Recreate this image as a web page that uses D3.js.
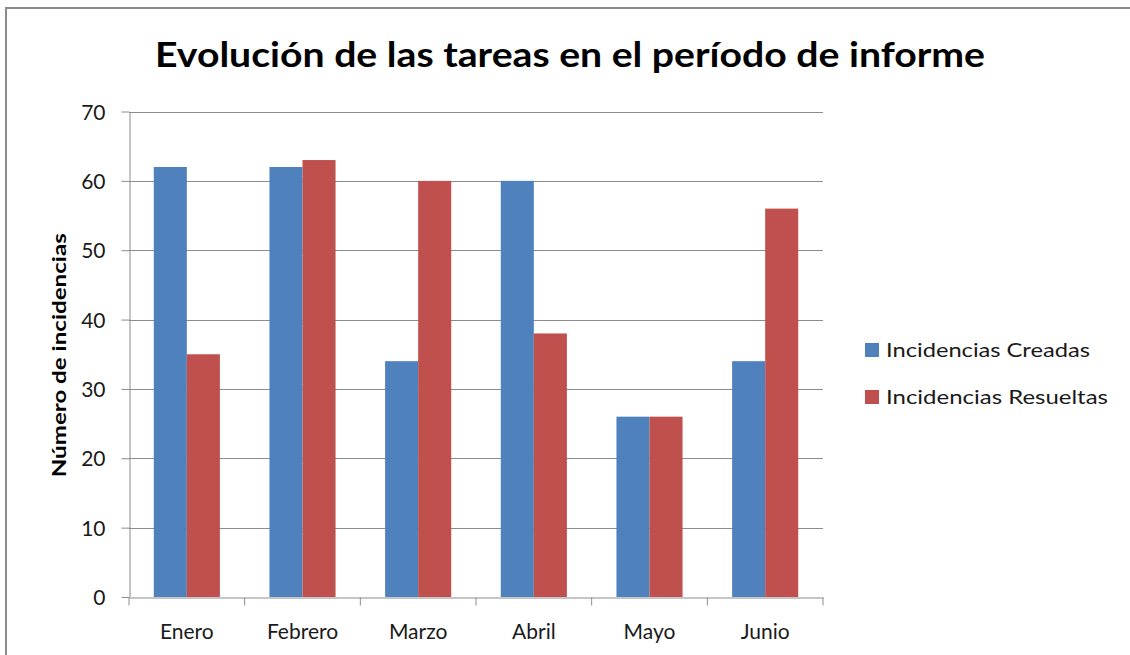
<!DOCTYPE html>
<html>
<head>
  <meta charset="UTF-8">
  <style>
    body { margin: 0; background: #fff; }
    svg { display: block; font-family: Lato, "Open Sans", sans-serif; }
  </style>
</head>
<body>
  <svg></svg>
<script src="https://d3js.org/d3.v7.min.js"></script>

<script>
let width = 1130,
    height = 655;

let months = ["Enero", "Febrero", "Marzo", "Abril", "Mayo", "Junio"];
let creadas = [62, 62, 34, 60, 26, 34];
let resueltas = [35, 63, 60, 38, 26, 56];
let seriesNames = ["Incidencias Creadas", "Incidencias Resueltas"];
let yTicks = [0, 10, 20, 30, 40, 50, 60, 70];

let colors = ["#4F81BD", "#C0504D"];

let svg = d3.select("svg")
    .attr("width", width)
    .attr("height", height);

// outer frame (only top and left visible)
svg.append("path")
    .attr("d", "M6,655 L6,8 L1130,8")
    .attr("fill", "none")
    .attr("stroke", "#8a8a8a")
    .attr("stroke-width", 2);

let plot = { left: 129, right: 823, top: 111.5, bottom: 597 };

let x = d3.scaleBand()
    .domain(months)
    .range([plot.left, plot.right])
    .paddingInner(0)
    .paddingOuter(0);

// two bars per month, ~33px each, gap of ~24px on each side
let xInner = d3.scaleBand()
    .domain([0, 1])
    .range([0, x.bandwidth()])
    .paddingOuter(0.75)
    .paddingInner(0);

let y = d3.scaleLinear()
    .domain([0, 70])
    .range([plot.bottom, plot.top]);

// gridlines
svg.append("g")
    .selectAll("line")
    .data(yTicks.filter(d => d > 0))
    .enter()
    .append("line")
    .attr("x1", plot.left)
    .attr("x2", plot.right)
    .attr("y1", d => Math.round(y(d)) + 0.5)
    .attr("y2", d => Math.round(y(d)) + 0.5)
    .attr("stroke", "#8c8c8c")
    .attr("stroke-width", 1);

// bars
let rows = [];
months.forEach((m, i) => {
    rows.push({ month: m, s: 0, v: creadas[i] });
    rows.push({ month: m, s: 1, v: resueltas[i] });
});

svg.append("g")
    .selectAll("rect")
    .data(rows)
    .enter()
    .append("rect")
    .attr("x", d => x(d.month) + xInner(d.s))
    .attr("width", xInner.bandwidth())
    .attr("y", d => y(d.v))
    .attr("height", d => y(0) - y(d.v))
    .attr("fill", d => colors[d.s]);

// y axis
let yAxis = svg.append("g")
    .attr("transform", "translate(" + (plot.left + 0.5) + ",0)")
    .call(d3.axisLeft(y).tickValues(yTicks).tickSize(8).tickPadding(16).tickSizeOuter(0));

// x axis
let xAxis = svg.append("g")
    .attr("transform", "translate(0," + (Math.round(plot.bottom) + 0.5) + ")")
    .call(d3.axisBottom(x).tickSize(0).tickPadding(27));

xAxis.selectAll(".tick").append("line")
    .attr("x1", -x.bandwidth() / 2)
    .attr("x2", -x.bandwidth() / 2)
    .attr("y2", 8)
    .attr("stroke", "#8c8c8c");
xAxis.append("line")
    .attr("x1", plot.right)
    .attr("x2", plot.right)
    .attr("y2", 8)
    .attr("stroke", "#8c8c8c");

[yAxis, xAxis].forEach(a => {
    a.select(".domain").attr("stroke", "#8c8c8c");
    a.selectAll(".tick line").attr("stroke", "#8c8c8c");
    a.selectAll("text")
        .attr("font-family", "Lato, sans-serif")
        .attr("font-size", 21)
        .attr("fill", "#1a1a1a");
});
yAxis.selectAll("text").attr("dy", "0.36em");

// title
svg.append("text")
    .attr("x", 570)
    .attr("y", 67)
    .attr("text-anchor", "middle")
    .attr("font-size", 35)
    .attr("font-weight", "bold")
    .attr("textLength", 830)
    .attr("lengthAdjust", "spacingAndGlyphs")
    .attr("fill", "#000")
    .text("Evolución de las tareas en el período de informe");

// y axis title
svg.append("text")
    .attr("transform", "translate(66," + ((plot.top + plot.bottom) / 2 + 1) + ") rotate(-90)")
    .attr("text-anchor", "middle")
    .attr("font-size", 19)
    .attr("font-weight", "bold")
    .attr("textLength", 244)
    .attr("lengthAdjust", "spacingAndGlyphs")
    .attr("fill", "#000")
    .text("Número de incidencias");

// legend
let legend = svg.append("g")
    .selectAll("g")
    .data(seriesNames)
    .enter()
    .append("g")
    .attr("transform", (d, i) => "translate(865," + (343 + i * 47) + ")");

legend.append("rect")
    .attr("width", 14)
    .attr("height", 14)
    .attr("fill", (d, i) => colors[i]);

legend.append("text")
    .attr("x", 21)
    .attr("y", 14)
    .attr("font-size", 20)
    .attr("fill", "#1a1a1a")
    .attr("textLength", (d, i) => i === 0 ? 204 : 222)
    .attr("lengthAdjust", "spacingAndGlyphs")
    .text(d => d);
</script>
</body>
</html>
